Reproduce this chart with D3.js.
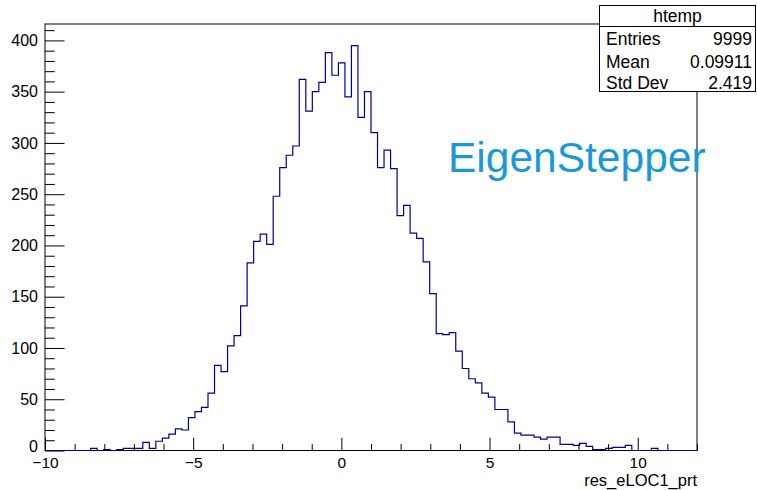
<!DOCTYPE html>
<html>
<head>
<meta charset="utf-8">
<script src="https://cdn.jsdelivr.net/npm/d3@7"></script>
<style>
  html, body { margin: 0; padding: 0; background: #fff; }
  svg { display: block; font-family: "Liberation Sans", Arial, Helvetica, sans-serif; }
</style>
</head>
<body>
<svg id="chart" width="757" height="490"></svg>
<script>
// ---- data ----
const binLow = -10;
const binHigh = 12;
const counts = [
  0,0,0,0,0,0,0,2,0,1,
  0,1,2,2,2,8,2,9,12,16,
  21,20,32,38,42,56,83,77,102,112,
  141,183,204,211,201,248,276,288,297,362,
  331,350,359,388,366,378,345,395,325,350,
  310,276,293,275,229,239,212,207,184,153,
  114,113,115,97,80,70,66,56,52,40,
  40,28,17,15,15,13,11,13,13,6,
  6,5,7,4,1,1,2,3,3,5,
  0,0,0,2,0,0,0,0,0,0
];
const xMajorTicks = [-10, -5, 0, 5, 10];
const yMajorTicks = [0, 50, 100, 150, 200, 250, 300, 350, 400];
const statsTitle = "htemp";
const statsLabels = ["Entries", "Mean", "Std Dev"];
const statsValues = ["9999", "0.09911", "2.419"];
const xTitle = "res_eLOC1_prt";
const annotation = "EigenStepper";

// ---- layout ----
const svg = d3.select("#chart");
const L = 45, R = 697, T = 24, B = 450.5;
const yMax = 416;
const x = d3.scaleLinear().domain([binLow, binHigh]).range([L, R]);
const y = d3.scaleLinear().domain([0, yMax]).range([B, T]);
const nb = counts.length;
const bw = (binHigh - binLow) / nb;

// frame
svg.append("rect")
  .attr("x", L).attr("y", T).attr("width", R - L).attr("height", B - T)
  .attr("fill", "none").attr("stroke", "#000").attr("stroke-width", 1);

// histogram step path
const pts = [[x(binLow), y(0)]];
counts.forEach((c, i) => {
  pts.push([x(binLow + i * bw), y(c)]);
  pts.push([x(binLow + (i + 1) * bw), y(c)]);
});
pts.push([x(binHigh), y(0)]);
svg.append("path")
  .attr("d", d3.line()(pts))
  .attr("fill", "none").attr("stroke", "#000099").attr("stroke-width", 1.2);

// x axis
const xMajLen = 0.03 * (B - T);
const xMinor = d3.range(binLow, binHigh + 0.001, 1).filter(v => !xMajorTicks.includes(v));
const xAx = svg.append("g").attr("transform", `translate(0,${B})`)
  .call(d3.axisBottom(x).tickValues(xMajorTicks).tickSize(-xMajLen).tickPadding(6)
    .tickFormat(d3.format("d")));
xAx.append("g").call(d3.axisBottom(x).tickValues(xMinor).tickSize(-xMajLen / 2).tickFormat(""));
xAx.selectAll(".domain").remove();
xAx.selectAll("line").attr("stroke", "#000");
xAx.selectAll("text").attr("font-size", 15.5).attr("fill", "#000")
  .attr("font-family", "Liberation Sans, Arial, sans-serif");

// y axis
const yMajLen = 0.03 * (R - L);
const yMinor = d3.range(0, yMax, 10).filter(v => v % 50 !== 0);
const yAx = svg.append("g").attr("transform", `translate(${L},0)`)
  .call(d3.axisLeft(y).tickValues(yMajorTicks).tickSize(-yMajLen).tickPadding(7)
    .tickFormat(d3.format("d")));
yAx.append("g").call(d3.axisLeft(y).tickValues(yMinor).tickSize(-yMajLen / 2).tickFormat(""));
yAx.selectAll(".domain").remove();
yAx.selectAll("line").attr("stroke", "#000");
yAx.selectAll("text").attr("font-size", 16).attr("fill", "#000")
  .attr("font-family", "Liberation Sans, Arial, sans-serif");
// nudge the zero label up slightly so it clears the x-axis "−10" label
yAx.selectAll(".tick").filter(d => d === 0).select("text").attr("dy", "0.05em");

// x title
svg.append("text").attr("x", R).attr("y", 486).attr("text-anchor", "end")
  .attr("font-size", 16.5).text(xTitle);

// annotation
svg.append("text").attr("x", 448).attr("y", 172)
  .attr("font-size", 42.5).attr("fill", "#1b98d8").text(annotation);

// stats box
const sx0 = 599.5, sx1 = 755.5, sy0 = 5.5, sy1 = 91.5, sh = 26.5;
svg.append("rect").attr("x", sx0).attr("y", sy0).attr("width", sx1 - sx0).attr("height", sy1 - sy0)
  .attr("fill", "#fff").attr("stroke", "#000").attr("stroke-width", 1);
svg.append("line").attr("x1", sx0).attr("x2", sx1).attr("y1", sh).attr("y2", sh)
  .attr("stroke", "#000");
svg.append("text").attr("x", (sx0 + sx1) / 2).attr("y", 22).attr("text-anchor", "middle")
  .attr("font-size", 17.5).text(statsTitle);
const rowY = [45, 68, 89];
statsLabels.forEach((lab, i) => {
  svg.append("text").attr("x", 606).attr("y", rowY[i]).attr("font-size", 17.5).text(lab);
  svg.append("text").attr("x", 752).attr("y", rowY[i]).attr("text-anchor", "end")
    .attr("font-size", 17.5).text(statsValues[i]);
});
</script>
</body>
</html>
